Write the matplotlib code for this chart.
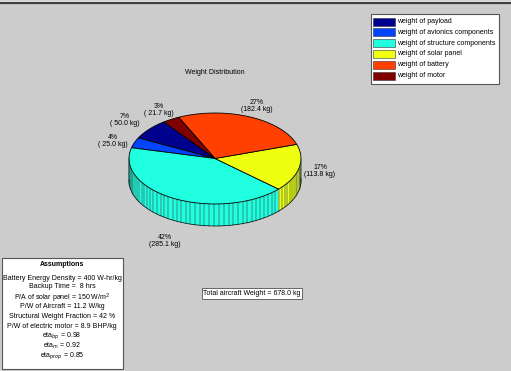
import numpy as np
import matplotlib
matplotlib.use("Agg")
import matplotlib.pyplot as plt
from matplotlib.patches import Polygon, Rectangle

plt.rcParams['font.family'] = ['Liberation Sans', 'DejaVu Sans']

# weights (kg)
names = ["weight of payload", "weight of avionics components",
         "weight of structure components", "weight of solar panel",
         "weight of battery", "weight of motor"]
weights = [50.0, 25.0, 285.1, 113.8, 182.4, 21.7]
colors = ["#00008f", "#0044ff", "#20ffe0", "#efff10", "#ff4000", "#800000"]

assumptions = ["Battery Energy Density = 400 W-hr/kg",
               "Backup Time =  8 hrs",
               "P/A of solar panel = 150 W/m$^2$",
               "P/W of Aircraft = 11.2 W/kg",
               "Structural Weight Fraction = 42 %",
               "P/W of electric motor = 8.9 BHP/kg",
               "eta$_{bp}$ = 0.98",
               "eta$_{m}$ = 0.92",
               "eta$_{prop}$ = 0.85"]

# layout (pixels)
cx, cy = 215, 158.5      # pie centre
ra, rb = 86, 45.5        # top ellipse semi axes
hw = 22                  # wall height
start = 126.5            # degrees, first slice start
label_xy = [(125, 120), (113, 141), (165, 241), (320, 171), (257, 106), (159, 110)]

fs = 5.0
fig = plt.figure(figsize=(5.11, 3.71), dpi=100)
fig.patch.set_facecolor("#cccccc")
ax = fig.add_axes([0, 0, 1, 1])
ax.set_xlim(0, 511)
ax.set_ylim(371, 0)
ax.axis("off")
ax.set_facecolor("#cccccc")

# top frame line
ax.plot([0, 511], [0.8, 0.8], color="#f0f0f0", lw=1.0)
ax.plot([0, 511], [2.6, 2.6], color="#404040", lw=1.6)

total = sum(weights)
fracs = [w / total for w in weights]

def pt(t, z=0.0):
    return cx + ra * np.cos(t), cy - rb * np.sin(t) + z

# walls first, then top faces
t0 = np.radians(start)
tops = []
for f, c in zip(fracs, colors):
    n = max(1, int(np.ceil(110 * f)))
    ts = t0 + np.linspace(0, f * 2 * np.pi, n + 1)
    wall = [(a1, a2) for a1, a2 in zip(ts[:-1], ts[1:]) if np.sin((a1 + a2) / 2) < 0.02]
    for a1, a2 in wall:
        x1, y1 = pt(a1)
        x2, y2 = pt(a2)
        ax.add_patch(Polygon([(x1, y1), (x2, y2), (x2, y2 + hw), (x1, y1 + hw)],
                             closed=True, facecolor=c, edgecolor="none"))
        ax.plot([x1, x1], [y1, y1 + hw], color="#103030", lw=0.35)
    if wall:
        xs, ys = pt(np.linspace(wall[0][0], wall[-1][1], 60))
        ax.plot(xs, ys + hw, color="black", lw=0.5)
    tops.append((ts, c))
    t0 = ts[-1]

for ts, c in tops:
    xs, ys = pt(ts)
    verts = [(cx, cy)] + list(zip(xs, ys))
    ax.add_patch(Polygon(verts, closed=True, facecolor=c, edgecolor="black", lw=0.6))

# slice labels
for w, f, (lx, ly) in zip(weights, fracs, label_xy):
    ax.text(lx, ly, f"{round(f * 100):d}%\n({w:5.1f} kg)", ha="center", va="center",
            fontsize=fs, linespacing=1.15)

ax.text(215, 73, "Weight Distribution", ha="center", va="center", fontsize=fs)

# legend
ax.add_patch(Rectangle((371, 14), 128, 70, facecolor="white", edgecolor="#555555", lw=0.8))
for i, (nm, c) in enumerate(zip(names, colors)):
    yy = 21.5 + i * 10.8
    ax.add_patch(Rectangle((373, yy - 4), 22, 8, facecolor=c, edgecolor="#333333", lw=0.4))
    ax.text(397, yy, nm, ha="left", va="center", fontsize=fs)

# assumptions box
ax.add_patch(Rectangle((1.5, 258), 121, 111, facecolor="white", edgecolor="#555555", lw=0.8))
ax.text(62, 265, "Assumptions", ha="center", va="center", fontsize=fs, fontweight="bold")
ys_a = [278, 287, 298, 307, 317, 326, 336, 346, 356]
for s, yy in zip(assumptions, ys_a):
    ax.text(62, yy, s, ha="center", va="center", fontsize=fs)

# total weight box
ax.add_patch(Rectangle((202, 288), 100, 11, facecolor="white", edgecolor="#666666", lw=0.7))
ax.text(252, 293.5, f"Total aircraft Weight = {total:.1f} kg", ha="center", va="center",
        fontsize=fs)

fig.savefig("out.png", dpi=100, facecolor=fig.get_facecolor())
